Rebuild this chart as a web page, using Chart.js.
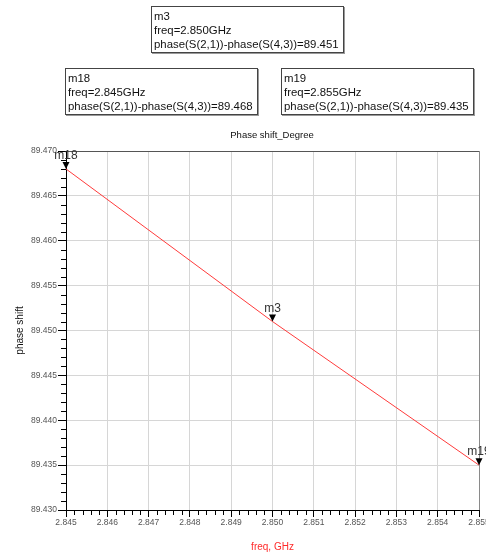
<!DOCTYPE html>
<html>
<head>
<meta charset="utf-8">
<script src="https://cdn.jsdelivr.net/npm/chart.js@4.4.1/dist/chart.umd.min.js"></script>
<style>
  html, body { margin: 0; padding: 0; background: #fff; }
  #wrap { position: relative; width: 486px; height: 556px; overflow: hidden; }
  #plot { position: absolute; left: 0; top: 0; }
  .mk-box {
    position: absolute; box-sizing: border-box; height: 47px;
    border: 1px solid #444; background: #fff;
    box-shadow: 1px 1px 0 #999;
    font: 11.4px "Liberation Sans", Arial, sans-serif; line-height: 14px;
    color: #111; padding: 2px 2px 0 2px; white-space: nowrap;
  }
  #title {
    position: absolute; left: 0; width: 544px; top: 129px; text-align: center;
    font: 9.5px "Liberation Sans", Arial, sans-serif; color: #111;
  }
</style>
</head>
<body>
<div id="wrap">
  <canvas id="plot" width="486" height="556"></canvas>
  <div id="title">Phase shift_Degree</div>
  <div id="boxes"></div>
</div>
<script>
// sweep data
const freqGHz = [2.845, 2.850, 2.855];
const phaseDeg = [89.468, 89.451, 89.435];
const markerNames = ['m18', 'm3', 'm19'];

// axis ranges and tick spacing
const xRange = [2.845, 2.855];
const xStep = 0.001;
const yRange = [89.430, 89.470];
const yStep = 0.005;

// marker readout boxes: which marker, and where
const readouts = [
  { name: 'm3', left: 151, top: 6, width: 193 },
  { name: 'm18', left: 65, top: 68, width: 193 },
  { name: 'm19', left: 281, top: 68, width: 193 }
];

const boxes = document.getElementById('boxes');
readouts.forEach(r => {
  const i = markerNames.indexOf(r.name);
  const el = document.createElement('div');
  el.className = 'mk-box';
  el.style.left = r.left + 'px';
  el.style.top = r.top + 'px';
  el.style.width = r.width + 'px';
  el.innerHTML = r.name + '<br>freq=' + freqGHz[i].toFixed(3) + 'GHz<br>' +
    'phase(S(2,1))-phase(S(4,3))=' + phaseDeg[i].toFixed(3);
  boxes.appendChild(el);
});

// short minor ticks between the labelled ones
const minorTicks = {
  id: 'minorTicks',
  afterDraw(chart) {
    const { ctx, chartArea: a, scales: { x, y } } = chart;
    ctx.save();
    ctx.strokeStyle = '#000';
    ctx.lineWidth = 1;
    ctx.beginPath();
    for (let k = 0; k <= 40; k++) {
      if (k % 5 === 0) continue;
      const py = Math.round(y.getPixelForValue(yRange[0] + k * 0.001)) + 0.5;
      ctx.moveTo(a.left - 5, py);
      ctx.lineTo(a.left, py);
    }
    for (let k = 0; k <= 50; k++) {
      if (k % 5 === 0) continue;
      const px = Math.round(x.getPixelForValue(xRange[0] + k * 0.0002)) + 0.5;
      ctx.moveTo(px, a.bottom);
      ctx.lineTo(px, a.bottom + 5);
    }
    ctx.stroke();
    ctx.restore();
  }
};

// downward triangles with marker names above them
const markerFlags = {
  id: 'markerFlags',
  afterDatasetsDraw(chart) {
    const { ctx, scales: { x, y } } = chart;
    ctx.save();
    freqGHz.forEach((f, i) => {
      const px = x.getPixelForValue(f);
      const py = y.getPixelForValue(phaseDeg[i]);
      ctx.fillStyle = '#000';
      ctx.beginPath();
      ctx.moveTo(px, py);
      ctx.lineTo(px - 3.5, py - 7);
      ctx.lineTo(px + 3.5, py - 7);
      ctx.closePath();
      ctx.fill();
      ctx.fillStyle = '#333';
      ctx.font = '12px "Liberation Sans", Arial, sans-serif';
      ctx.textAlign = 'center';
      ctx.textBaseline = 'alphabetic';
      ctx.fillText(markerNames[i], px, py - 10);
    });
    ctx.restore();
  }
};

const tickFont = { family: '"Liberation Sans", Arial, sans-serif', size: 8.5 };

new Chart(document.getElementById('plot'), {
  type: 'scatter',
  data: {
    datasets: [{
      data: freqGHz.map((f, i) => ({ x: f, y: phaseDeg[i] })),
      showLine: true,
      borderColor: '#ff3b3b',
      borderWidth: 1,
      pointRadius: 0,
      pointHoverRadius: 0,
      tension: 0
    }]
  },
  options: {
    responsive: false,
    animation: false,
    events: [],
    layout: { padding: { top: 151, right: 7, left: 0, bottom: 0 } },
    plugins: { legend: { display: false }, tooltip: { enabled: false } },
    scales: {
      x: {
        type: 'linear',
        min: xRange[0],
        max: xRange[1],
        afterFit(s) { s.height = 46; s.paddingLeft = 0; s.paddingRight = 0; },
        ticks: {
          stepSize: xStep,
          color: '#555',
          font: tickFont,
          padding: 1,
          maxRotation: 0,
          autoSkip: false,
          callback: v => v.toFixed(3)
        },
        grid: {
          color: c => (c.tick && Math.abs(c.tick.value - xRange[1]) < 1e-6) ? '#8a8a8a' : '#d6d6d6',
          tickColor: '#000',
          tickLength: 7
        },
        border: { color: '#000', width: 1 },
        title: {
          display: true,
          text: 'freq, GHz',
          color: '#ff2a2a',
          font: { family: '"Liberation Sans", Arial, sans-serif', size: 10 },
          padding: { top: 0, bottom: 3 }
        }
      },
      y: {
        min: yRange[0],
        max: yRange[1],
        afterFit(s) { s.width = 66; s.paddingTop = 0; s.paddingBottom = 0; },
        ticks: {
          stepSize: yStep,
          color: '#555',
          font: tickFont,
          padding: 1,
          autoSkip: false,
          callback: v => v.toFixed(3)
        },
        grid: {
          color: c => (c.tick && Math.abs(c.tick.value - yRange[1]) < 1e-6) ? '#555' : '#d6d6d6',
          tickColor: '#000',
          tickLength: 8
        },
        border: { color: '#000', width: 1 },
        title: {
          display: true,
          text: 'phase shift',
          color: '#111',
          font: { family: '"Liberation Sans", Arial, sans-serif', size: 10 },
          padding: { top: 14, bottom: 0 }
        }
      }
    }
  },
  plugins: [minorTicks, markerFlags]
});
</script>
</body>
</html>
